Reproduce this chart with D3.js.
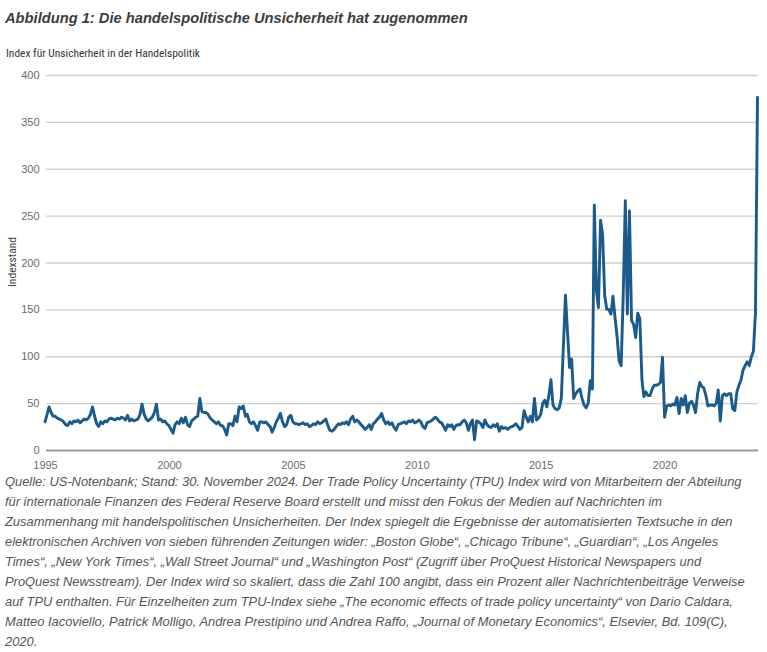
<!DOCTYPE html>
<html>
<head>
<meta charset="utf-8">
<script src="https://cdn.jsdelivr.net/npm/d3@7"></script>
<style>
  html, body { margin: 0; padding: 0; background: #fff; }
  svg { display: block; }
</style>
</head>
<body>
<svg id="chart" width="767" height="652"></svg>
<script>
// ---- Data ----
const titleText = "Abbildung 1: Die handelspolitische Unsicherheit hat zugenommen";
const subtitleText = "Index für Unsicherheit in der Handelspolitik";
const yAxisTitle = "Indexstand";
const startYear = 1995;   // first monthly observation (Jan)
const yTicks = [0, 50, 100, 150, 200, 250, 300, 350, 400];
const xTickYears = [1995, 2000, 2005, 2010, 2015, 2020];

// monthly TPU index values
const tpuValues = [
  30, 38, 46, 40, 36, 36, 34, 33, 32, 30, 27, 26,
  30, 28, 31, 30, 32, 29, 31, 33, 32, 34, 38, 46,
  36, 28, 25, 30, 28, 31, 30, 33, 34, 33, 32, 34,
  33, 35, 34, 32, 37, 31, 33, 31, 32, 33, 38, 49,
  38, 33, 31, 33, 35, 40, 49, 32, 33, 30, 31, 28,
  26, 22, 18, 27, 30, 28, 34, 29, 35, 27, 25, 31,
  33, 35, 36, 55, 41, 40, 40, 38, 34, 32, 30, 28,
  30, 26, 26, 22, 16, 28, 28, 26, 36, 30, 46, 44,
  47, 36, 38, 30, 28, 30, 26, 21, 30, 30, 29, 30,
  27, 25, 19, 24, 30, 34, 39, 30, 25, 27, 35, 37,
  30, 28, 28, 27, 28, 29, 27, 28, 25, 26, 28, 27,
  30, 28, 29, 31, 33, 26, 21, 20, 22, 25, 28, 27,
  29, 28, 30, 27, 33, 36, 30, 32, 30, 27, 25, 22,
  24, 27, 22, 28, 30, 33, 35, 39, 32, 28, 30, 27,
  29, 24, 21, 27, 28, 29, 30, 28, 31, 30, 32, 29,
  30, 32, 30, 25, 23, 29, 30, 31, 33, 35, 33, 30,
  29, 25, 21, 27, 25, 27, 22, 26, 27, 27, 30, 32,
  29, 21, 28, 32, 11, 31, 30, 28, 24, 32, 27, 25,
  24, 27, 25, 28, 20, 25, 23, 24, 22, 24, 25, 26,
  28, 25, 22, 24, 42, 35, 30, 36, 30, 55, 32, 34,
  38, 50, 53, 46, 58, 75, 48, 44, 43, 45, 55, 110,
  165, 125, 88, 97, 55, 60, 63, 65, 55, 48, 45, 50,
  74, 65, 261, 170, 152, 245, 230, 165, 150, 150, 145, 164,
  141, 120, 95, 90, 165, 266, 145, 255, 138, 134, 120, 146,
  140, 75, 57, 62, 58, 58, 65, 69, 69, 70, 72, 99,
  35, 47, 48, 47, 49, 48, 56, 39, 55, 48, 58, 40,
  50, 52, 48, 40, 60, 72, 68, 66, 58, 47, 48, 48,
  47, 50, 64, 31, 58, 60, 58, 60, 60, 44, 42, 62,
  69, 75, 85, 90, 94, 90, 99, 105, 146, 376
];

const footnoteLines = [
  "Quelle: US-Notenbank; Stand: 30. November 2024. Der Trade Policy Uncertainty (TPU) Index wird von Mitarbeitern der Abteilung",
  "für internationale Finanzen des Federal Reserve Board erstellt und misst den Fokus der Medien auf Nachrichten im",
  "Zusammenhang mit handelspolitischen Unsicherheiten. Der Index spiegelt die Ergebnisse der automatisierten Textsuche in den",
  "elektronischen Archiven von sieben führenden Zeitungen wider: „Boston Globe“, „Chicago Tribune“, „Guardian“, „Los Angeles",
  "Times“, „New York Times“, „Wall Street Journal“ und „Washington Post“ (Zugriff über ProQuest Historical Newspapers und",
  "ProQuest Newsstream). Der Index wird so skaliert, dass die Zahl 100 angibt, dass ein Prozent aller Nachrichtenbeiträge Verweise",
  "auf TPU enthalten. Für Einzelheiten zum TPU-Index siehe „The economic effects of trade policy uncertainty“ von Dario Caldara,",
  "Matteo Iacoviello, Patrick Molligo, Andrea Prestipino und Andrea Raffo, „Journal of Monetary Economics“, Elsevier, Bd. 109(C),",
  "2020."
];

// ---- Build ----
const data = tpuValues.map((v, i) => ({ date: new Date(startYear, i, 1), value: v }));

const svg = d3.select("#chart");
const plotLeft = 45, plotRight = 757.5, plotTop = 75, plotBottom = 450;

const x = d3.scaleTime()
  .domain([data[0].date, data[data.length - 1].date])
  .range([plotLeft, plotRight]);
const y = d3.scaleLinear().domain([0, 400]).range([plotBottom, plotTop]);

const sans = "'Liberation Sans', Arial, Helvetica, sans-serif";
const narrow = "'Liberation Sans Narrow', 'Roboto Condensed', 'Liberation Sans', Arial, sans-serif";

// Title
svg.append("text")
  .attr("x", 5).attr("y", 23)
  .attr("font-family", sans)
  .attr("font-size", 14.7).attr("font-weight", "bold").attr("font-style", "italic")
  .attr("fill", "#3d3d3d")
  .text(titleText);

// Subtitle
svg.append("text")
  .attr("x", 6).attr("y", 57.3)
  .attr("font-family", narrow)
  .attr("font-size", 11.5)
  .attr("fill", "#333")
  .attr("textLength", 194).attr("lengthAdjust", "spacingAndGlyphs")
  .text(subtitleText);

// Y grid + labels via axis
const yAxis = d3.axisLeft(y).tickValues(yTicks).tickSize(-(758 - 46)).tickPadding(6);
const yg = svg.append("g").attr("transform", `translate(46,0)`).call(yAxis);
yg.select(".domain").remove();
yg.selectAll(".tick line")
  .attr("stroke", d => d === 0 ? "#9a9a9a" : "#cfcfcf")
  .attr("stroke-width", d => d === 0 ? 2 : 1.4);
yg.selectAll(".tick text")
  .attr("font-family", sans).attr("font-size", 11).attr("fill", "#6b6b6b")
  .attr("x", -6.5);

// X axis labels
const xAxis = d3.axisBottom(x)
  .tickValues(xTickYears.map(yr => new Date(yr, 0, 1)))
  .tickFormat(d3.timeFormat("%Y"))
  .tickSize(0).tickPadding(0);
const xg = svg.append("g").attr("transform", `translate(0,${plotBottom})`).call(xAxis);
xg.select(".domain").remove();
xg.selectAll(".tick text")
  .attr("font-family", sans).attr("font-size", 11).attr("fill", "#6b6b6b")
  .attr("y", 19).attr("dy", 0);

// Y axis title
svg.append("text")
  .attr("transform", "translate(15.5,262) rotate(-90)")
  .attr("text-anchor", "middle")
  .attr("font-family", narrow).attr("font-size", 11).attr("fill", "#444")
  .attr("textLength", 50).attr("lengthAdjust", "spacingAndGlyphs")
  .text(yAxisTitle);

// Line
const line = d3.line().x(d => x(d.date)).y(d => y(d.value));
svg.append("path")
  .datum(data)
  .attr("d", line)
  .attr("fill", "none")
  .attr("stroke", "#1b5b8c")
  .attr("stroke-width", 2.9)
  .attr("stroke-linejoin", "round")
  .attr("stroke-linecap", "round");

// Footnote
const fn = svg.append("text")
  .attr("font-family", sans).attr("font-size", 12.9).attr("font-style", "italic")
  .attr("fill", "#555");
footnoteLines.forEach((t, i) => {
  fn.append("tspan").attr("x", 5).attr("y", 486 + i * 20).text(t);
});
</script>
</body>
</html>
